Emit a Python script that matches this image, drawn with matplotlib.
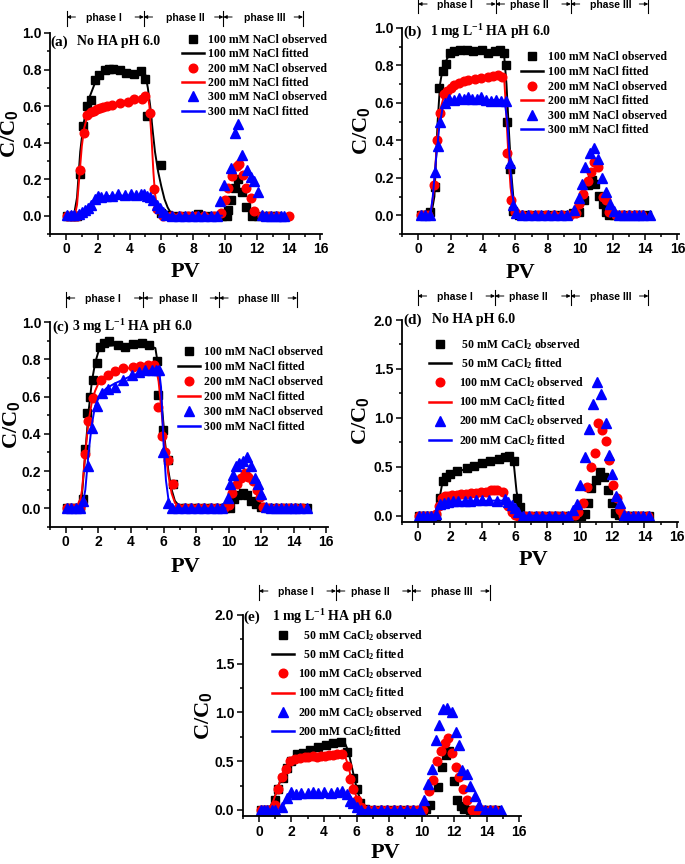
import matplotlib
matplotlib.use("Agg")
import matplotlib.pyplot as plt
from matplotlib.font_manager import FontProperties
from matplotlib.lines import Line2D
from matplotlib.ticker import MultipleLocator, FormatStrFormatter
from matplotlib.transforms import blended_transform_factory

plt.rcParams['font.family'] = ['Liberation Serif', 'DejaVu Serif']
plt.rcParams['mathtext.fontset'] = 'custom'
plt.rcParams['mathtext.rm'] = 'Liberation Serif:bold'
plt.rcParams['mathtext.it'] = 'Liberation Serif:bold'
plt.rcParams['mathtext.bf'] = 'Liberation Serif:bold'
plt.rcParams['mathtext.sf'] = 'Liberation Sans:bold'

# ---------------- data: panel (a) No HA, NaCl ----------------
a_x100 = [0.1,0.3,0.5,0.7,0.9,1.1,1.35,1.55,1.8,2.1,2.45,2.7,2.95,3.4,3.8,4.3,4.75,4.95,5.1,5.95,6.0,6.4,6.9,7.4,7.9,8.3,8.8,9.3,9.8,10.1,10.2,10.4,10.65,10.85,11.05,11.3,11.7,12.1,12.5,12.9,13.3]
a_y100 = [0,0,0,0,0.23,0.49,0.6,0.635,0.745,0.77,0.8,0.805,0.805,0.795,0.78,0.775,0.79,0.75,0.545,0.28,0.015,0.005,0,0,0,0.01,0,0,0,0,0.03,0.085,0.15,0.2,0.13,0.05,0,0,0,0,0]
a_x200 = [0.1,0.3,0.5,0.7,0.9,1.15,1.35,1.55,1.75,1.95,2.15,2.35,2.6,2.9,3.4,3.9,4.3,4.8,5.0,5.3,5.55,5.75,6.1,6.6,7.2,7.7,8.2,8.7,9.3,9.75,10.0,10.2,10.45,10.75,10.9,11.15,11.35,11.65,11.85,12.3,12.8,13.3,14.0]
a_y200 = [0,0,0,0,0.25,0.455,0.55,0.565,0.575,0.585,0.59,0.595,0.6,0.605,0.615,0.625,0.64,0.64,0.655,0.56,0.145,0.035,0,0,0,0,0,0,0,0.015,0.085,0.15,0.215,0.27,0.285,0.225,0.15,0.095,0.025,0,0,0,0]
a_x300 = [0.05,0.3,0.5,0.8,1.0,1.2,1.4,1.6,1.8,2.0,2.2,2.5,2.9,3.3,3.7,4.1,4.4,4.7,4.9,5.1,5.3,5.5,5.7,5.9,6.1,6.3,6.7,7.1,7.5,7.9,8.3,8.7,9.1,9.5,9.7,9.95,10.4,10.65,10.85,11.1,11.38,11.63,11.85,12.05,12.3,12.6,12.9,13.2,13.5,13.7]
a_y300 = [0.005,0.005,0.005,0.01,0.02,0.03,0.04,0.06,0.09,0.11,0.1,0.11,0.11,0.12,0.115,0.12,0.115,0.12,0.12,0.11,0.1,0.085,0.06,0.04,0.02,0.005,0,0,0,0,0,0,0,0,0.08,0.17,0.26,0.45,0.5,0.33,0.25,0.21,0.19,0.13,0.005,0,0,0,0,0]
a_fx100 = [0.5,0.7,0.9,1.1,1.4,1.8,2.2,2.6,3.0,3.5,4.0,4.5,5.0,5.15,5.3,5.45,5.6,5.8,6.0,6.2,6.4,6.6,6.9,9.8]
a_fy100 = [0,0.1,0.35,0.5,0.63,0.72,0.77,0.795,0.8,0.795,0.79,0.785,0.77,0.7,0.6,0.47,0.35,0.24,0.16,0.09,0.045,0.015,0,0]
a_fx200 = [0.55,0.7,0.85,1.0,1.15,1.3,1.6,2.0,2.5,3.0,3.5,4.0,4.5,5.0,5.15,5.25,5.4,5.5,5.6,5.75,5.9,6.1,9.8]
a_fy200 = [0,0.06,0.22,0.38,0.48,0.53,0.56,0.58,0.595,0.605,0.615,0.625,0.635,0.65,0.655,0.6,0.4,0.24,0.12,0.04,0.01,0,0]
a_fx300 = [0.6,0.9,1.2,1.5,1.8,2.1,2.5,3.0,3.5,4.0,4.5,4.9,5.2,5.5,5.8,6.1,6.4,6.7,9.8]
a_fy300 = [0,0.01,0.03,0.06,0.09,0.1,0.105,0.11,0.11,0.11,0.11,0.11,0.1,0.085,0.055,0.025,0.008,0,0]

# ---------------- data: panel (b) 1 mg/L HA, NaCl ----------------
b_x100 = [0.15,0.45,0.72,1.03,1.3,1.54,1.74,1.96,2.2,2.57,2.99,3.4,3.91,4.32,4.73,5.04,5.29,5.42,5.48,5.68,5.85,6.2,6.6,7.0,7.5,8.0,8.5,9.0,9.54,9.95,10.26,10.46,10.73,10.93,11.14,11.38,11.59,11.8,12.1,12.5,12.9,13.3,13.7,14.1]
b_y100 = [0,0,0.015,0.15,0.68,0.77,0.81,0.866,0.875,0.88,0.884,0.875,0.884,0.866,0.875,0.884,0.866,0.8,0.5,0.245,0.025,0,0,0,0,0,0,0,0.01,0.02,0.08,0.16,0.19,0.165,0.105,0.06,0.02,0,0,0,0,0,0,0]
b_x200 = [0.2,0.45,0.6,0.96,1.17,1.33,1.58,1.8,2.0,2.2,2.5,2.8,3.1,3.5,3.9,4.3,4.6,4.9,5.2,5.5,5.74,5.95,6.4,6.9,7.4,7.9,8.4,8.9,9.4,9.74,9.9,10.15,10.46,10.67,10.87,11.08,11.38,11.59,11.8,12.2,12.6,13.0,13.4,13.8]
b_y200 = [0,0,0,0.16,0.4,0.545,0.645,0.665,0.68,0.695,0.705,0.715,0.72,0.73,0.735,0.74,0.745,0.75,0.74,0.33,0.08,0.015,0,0,0,0,0,0,0,0.01,0.06,0.115,0.185,0.23,0.285,0.26,0.1,0.08,0.02,0,0,0,0,0]
b_x300 = [0.15,0.4,0.7,1.03,1.23,1.37,1.64,1.9,2.2,2.5,2.8,3.1,3.3,3.6,3.9,4.2,4.5,4.8,5.1,5.45,5.64,5.85,6.05,6.4,6.8,7.2,7.6,8.0,8.4,8.8,9.2,9.64,9.9,10.1,10.32,10.6,10.87,11.08,11.34,11.59,11.84,12.1,12.4,12.7,13.0,13.3,13.6,13.9,14.3]
b_y300 = [0,0,0,0.23,0.37,0.5,0.6,0.62,0.615,0.625,0.62,0.63,0.62,0.62,0.63,0.615,0.61,0.615,0.61,0.61,0.28,0.055,0.01,0,0,0,0,0,0,0,0,0.03,0.09,0.165,0.26,0.33,0.36,0.3,0.2,0.125,0.06,0.025,0,0,0,0,0,0,0]
b_fx100 = [0.8,1.0,1.2,1.35,1.5,1.8,2.2,3.0,4.0,5.0,5.3,5.45,5.6,5.75,5.9,6.05,6.2,9.5]
b_fy100 = [0,0.1,0.5,0.7,0.78,0.84,0.865,0.875,0.875,0.875,0.86,0.7,0.45,0.22,0.07,0.015,0,0]
b_fx200 = [0.75,0.95,1.15,1.35,1.6,2.0,3.0,4.0,5.0,5.3,5.4,5.55,5.7,5.85,6.0,6.2,9.5]
b_fy200 = [0,0.12,0.38,0.56,0.64,0.68,0.72,0.74,0.75,0.74,0.6,0.35,0.15,0.05,0.01,0,0]
b_fx300 = [0.75,0.9,1.1,1.3,1.5,1.7,2.0,3.0,4.0,5.0,5.35,5.5,5.65,5.8,5.95,6.1,6.3,9.5]
b_fy300 = [0,0.1,0.3,0.47,0.57,0.6,0.61,0.615,0.615,0.615,0.6,0.5,0.3,0.12,0.04,0.01,0,0]

# ---------------- data: panel (c) 3 mg/L HA, NaCl ----------------
c_x100 = [0.1,0.35,0.6,0.85,1.05,1.19,1.33,1.5,1.66,1.9,2.1,2.35,2.68,3.2,3.64,4.15,4.66,5.13,5.58,5.68,5.99,6.3,6.6,7.0,7.4,7.8,8.2,8.6,9.0,9.4,9.8,10.1,10.3,10.6,10.9,11.1,11.4,11.7,12.0,12.4,12.8,13.2,13.6,14.0,14.4,14.8]
c_y100 = [0,0,0,0,0.05,0.32,0.51,0.6,0.69,0.78,0.865,0.885,0.9,0.875,0.865,0.88,0.89,0.875,0.79,0.61,0.42,0.26,0.13,0,0,0,0,0,0,0,0,0,0.05,0.07,0.08,0.07,0.04,0.025,0.005,0,0,0,0,0,0,0]
c_x200 = [0.1,0.35,0.6,0.85,1.0,1.19,1.39,1.7,2.15,2.6,3.03,3.54,4.11,4.56,5.07,5.4,5.68,5.89,6.1,6.3,6.56,6.9,7.3,7.7,8.1,8.5,8.9,9.3,9.7,10.0,10.2,10.5,10.74,11.0,11.2,11.47,11.72,11.9,12.1,12.5,12.9,13.3,13.7,14.1,14.5]
c_y200 = [0,0,0,0,0.03,0.29,0.47,0.59,0.69,0.715,0.735,0.755,0.76,0.765,0.77,0.77,0.546,0.386,0.3,0.26,0.13,0,0,0,0,0,0,0,0,0.02,0.085,0.13,0.165,0.19,0.17,0.145,0.1,0.06,0.01,0,0,0,0,0,0]
c_x300 = [0.1,0.35,0.6,0.85,1.08,1.39,1.6,1.9,2.2,2.6,3.03,3.53,4.05,4.5,4.87,5.27,5.55,5.72,5.99,6.26,6.5,6.9,7.3,7.7,8.1,8.5,8.9,9.3,9.6,9.94,10.08,10.29,10.45,10.65,10.9,11.15,11.35,11.6,11.8,12.0,12.3,12.6,12.9,13.2,13.5,13.8,14.1,14.4,14.8]
c_y300 = [0,0,0,0,0.04,0.225,0.43,0.55,0.62,0.64,0.65,0.69,0.715,0.73,0.745,0.745,0.74,0.745,0.3,0.03,0,0,0,0,0,0,0,0,0,0.057,0.13,0.18,0.225,0.245,0.255,0.275,0.225,0.165,0.13,0.075,0.01,0,0,0,0,0,0,0,0]
c_fx100 = [0.8,1.0,1.2,1.4,1.6,1.8,2.0,2.3,3.0,4.0,5.0,5.5,5.7,5.9,6.1,6.3,6.5,6.7,7.0,7.3,9.8]
c_fy100 = [0,0.08,0.3,0.52,0.68,0.78,0.84,0.87,0.875,0.875,0.875,0.86,0.75,0.55,0.35,0.2,0.1,0.04,0.01,0,0]
c_fx200 = [0.8,1.0,1.2,1.4,1.6,1.8,2.1,2.5,3.0,4.0,5.0,5.5,5.7,5.9,6.1,6.3,6.5,6.7,7.0,9.8]
c_fy200 = [0,0.1,0.3,0.47,0.57,0.63,0.69,0.715,0.735,0.755,0.77,0.77,0.68,0.5,0.32,0.18,0.08,0.03,0,0]
c_fx300 = [1.0,1.2,1.4,1.6,1.8,2.1,2.5,3.0,3.5,4.0,4.5,5.0,5.5,5.7,5.85,6.0,6.15,6.3,6.5,6.7,9.8]
c_fy300 = [0,0.1,0.3,0.45,0.55,0.61,0.645,0.67,0.69,0.71,0.725,0.735,0.75,0.76,0.65,0.35,0.15,0.05,0.01,0,0]

# ---------------- data: panel (d) No HA, CaCl2 ----------------
d_x50 = [0.1,0.35,0.6,0.85,1.1,1.38,1.58,1.75,1.99,2.4,3.02,3.47,4.0,4.46,5.0,5.39,5.65,5.94,6.1,6.3,6.6,7.0,7.4,7.8,8.2,8.6,9.0,9.4,9.8,10.1,10.3,10.5,10.7,11.0,11.25,11.5,11.75,11.97,12.2,12.4,12.7,13.0,13.3,13.6,14.0,14.3]
d_y50 = [0,0,0,0,0,0.18,0.35,0.39,0.43,0.46,0.485,0.51,0.535,0.56,0.575,0.6,0.605,0.56,0.18,0.09,0,0,0,0,0,0,0,0,0,0,0.02,0.125,0.28,0.365,0.45,0.39,0.26,0.125,0.03,0.005,0,0,0,0,0,0]
d_x100 = [0.1,0.35,0.6,0.85,1.1,1.3,1.5,1.7,1.9,2.1,2.4,2.7,3.0,3.3,3.6,3.9,4.2,4.5,4.7,4.9,5.29,5.55,5.8,6.0,6.2,6.6,7.0,7.4,7.8,8.2,8.6,9.0,9.4,9.7,9.9,10.2,10.43,10.68,10.95,11.11,11.36,11.6,11.83,12.04,12.28,12.5,12.7,13.0,13.4,13.8,14.2]
d_y100 = [0,0,0,0,0.02,0.1,0.18,0.2,0.205,0.21,0.215,0.22,0.225,0.23,0.235,0.24,0.245,0.26,0.265,0.26,0.24,0.1,0.04,0.01,0,0,0,0,0,0,0,0,0,0.01,0.04,0.125,0.295,0.5,0.645,0.945,0.875,0.765,0.57,0.315,0.18,0.06,0.005,0,0,0,0]
d_x200 = [0.1,0.35,0.6,0.85,1.1,1.38,1.6,1.9,2.2,2.5,2.9,3.2,3.6,4.0,4.4,4.9,5.39,5.6,5.8,6.0,6.2,6.5,6.9,7.3,7.7,8.1,8.5,8.9,9.3,9.6,9.85,10.05,10.3,10.55,10.85,11.05,11.3,11.6,11.8,12.0,12.25,12.5,12.75,13.0,13.3,13.6,13.9,14.3]
d_y200 = [0,0,0,0,0.02,0.12,0.13,0.14,0.145,0.15,0.15,0.15,0.155,0.16,0.155,0.15,0.175,0.14,0.11,0.075,0.04,0,0,0,0,0,0,0,0,0.06,0.12,0.31,0.6,0.89,1.14,1.37,1.24,0.95,0.62,0.43,0.2,0.13,0.01,0,0,0,0,0]
d_fx50 = [1.2,1.35,1.55,1.8,2.0,3.0,4.0,5.0,5.5,5.8,5.95,6.1,6.3,6.5,6.7,9.5]
d_fy50 = [0,0.18,0.36,0.4,0.42,0.48,0.53,0.575,0.6,0.6,0.5,0.25,0.08,0.02,0,0]
d_fx100 = [1.1,1.3,1.5,1.8,2.5,3.5,4.5,5.0,5.3,5.5,5.7,5.9,6.1,9.5]
d_fy100 = [0,0.1,0.17,0.2,0.22,0.235,0.25,0.255,0.24,0.16,0.07,0.02,0,0]
d_fx200 = [1.1,1.3,1.6,2.0,3.0,4.0,5.0,5.4,5.7,6.0,6.3,6.5,9.5]
d_fy200 = [0,0.08,0.12,0.135,0.145,0.15,0.155,0.15,0.11,0.05,0.01,0,0]

# ---------------- data: panel (e) 1 mg/L HA, CaCl2 ----------------
e_x50 = [0.1,0.35,0.6,0.8,1.0,1.19,1.45,1.7,2.0,2.36,2.7,3.14,3.65,4.12,4.57,5.02,5.43,5.8,6.0,6.2,6.5,6.9,7.3,7.7,8.1,8.5,8.9,9.3,9.7,10.1,10.3,10.5,11.0,11.25,11.5,11.7,12.0,12.2,12.4,12.6,13.0,13.4,13.8,14.2,14.6]
e_y50 = [0,0,0,0,0.1,0.21,0.33,0.43,0.5,0.575,0.58,0.61,0.65,0.667,0.684,0.7,0.59,0.325,0.21,0.07,0.01,0,0,0,0,0,0,0,0,0,0.01,0.05,0.24,0.44,0.56,0.6,0.3,0.1,0.04,0.01,0,0,0,0,0]
e_x100 = [0.1,0.35,0.6,0.8,1.0,1.19,1.39,1.66,1.9,2.2,2.5,2.8,3.03,3.3,3.55,3.8,4.06,4.3,4.57,4.8,5.08,5.39,5.6,5.8,6.0,6.3,6.7,7.1,7.5,7.9,8.3,8.7,9.1,9.5,9.8,10.1,10.45,10.68,10.92,11.17,11.43,11.64,11.84,12.1,12.3,12.56,12.77,13.07,13.4,13.8,14.2,14.5]
e_y100 = [0,0,0,0,0.05,0.22,0.34,0.42,0.5,0.52,0.53,0.54,0.545,0.55,0.54,0.55,0.555,0.56,0.565,0.57,0.575,0.45,0.315,0.21,0.1,0.03,0,0,0,0,0,0,0,0,0,0,0.19,0.31,0.5,0.6,0.69,0.735,0.58,0.44,0.34,0.22,0.1,0,0,0,0,0]
e_x200 = [0.1,0.3,0.5,0.8,1.0,1.39,1.7,2.0,2.3,2.6,3.0,3.3,3.6,4.0,4.4,4.8,5.1,5.4,5.6,5.8,6.0,6.3,6.7,7.1,7.5,7.9,8.3,8.7,9.1,9.5,9.9,10.16,10.4,10.66,10.88,11.1,11.33,11.54,11.84,12.1,12.3,12.5,12.77,13.0,13.28,13.55,13.9,14.2,14.5,14.9]
e_y200 = [0,0,0,0,0,0.03,0.12,0.18,0.16,0.17,0.17,0.18,0.17,0.18,0.17,0.18,0.19,0.16,0.09,0.07,0.03,0,0,0,0,0,0,0,0,0,0,0.1,0.27,0.42,0.72,0.87,1.04,1.05,1.0,0.8,0.67,0.41,0.37,0.25,0.14,0.05,0,0,0,0]
e_fx50 = [0.6,0.9,1.2,1.5,1.8,2.1,2.5,3.0,3.5,4.0,4.5,5.0,5.3,5.5,5.7,5.9,6.1,6.3,6.5,6.8,9.8]
e_fy50 = [0,0.1,0.25,0.38,0.47,0.53,0.58,0.62,0.645,0.665,0.68,0.695,0.68,0.6,0.45,0.3,0.17,0.08,0.03,0,0]
e_fx100 = [0.6,0.9,1.2,1.5,1.8,2.1,2.5,3.0,4.0,5.0,5.3,5.5,5.7,5.9,6.1,6.3,6.5,9.8]
e_fy100 = [0,0.1,0.25,0.38,0.46,0.5,0.52,0.535,0.55,0.56,0.55,0.45,0.3,0.18,0.08,0.03,0,0]
e_fx200 = [1.3,1.5,1.8,2.1,2.5,3.0,4.0,5.0,5.5,5.7,5.9,6.1,6.3,6.5,9.8]
e_fy200 = [0,0.05,0.11,0.14,0.15,0.155,0.16,0.165,0.16,0.12,0.07,0.03,0.01,0,0]

# ---------------- labels ----------------
nacl_labels = ['100 mM NaCl observed', '100 mM NaCl fitted',
               '200 mM NaCl observed', '200 mM NaCl fitted',
               '300 mM NaCl observed', '300 mM NaCl fitted']
cacl_labels_d = [' 50 mM CaCl$_2$ observed', ' 50 mM CaCl$_2$ fitted',
                 '100 mM CaCl$_2$ observed', '100 mM CaCl$_2$ fitted',
                 '200 mM CaCl$_2$ observed', '200 mM CaCl$_2$ fitted']
cacl_labels_e = ['  50 mM CaCl$_2$ observed', '  50 mM CaCl$_2$ fitted',
                 '100 mM CaCl$_2$ observed', '100 mM CaCl$_2$ fitted',
                 '200 mM CaCl$_2$ observed', '200 mM CaCl$_2$fitted']
phase_names = ['phase I', 'phase II', 'phase III']

W, H = 685, 864
fig = plt.figure(figsize=(W / 100, H / 100), dpi=100)

SERIF = 'Liberation Serif'
SANS = 'Liberation Sans'
colors = ['#000000', '#ff0000', '#0000ff']
markers = ['s', 'o', '^']
msizes = [5.4, 6.2, 6.6]


def fx(x):
    return x / W


def fy(y):
    return 1 - y / H


def panel(box, ylim, ymaj, ymin, obs, fits, labels, tag, title, title_pos,
          leg_pos, leg_space, leg_pad, bars, texts_x, phase_dy, ylab_x, xlab_xy):
    l, t, r, b = box
    ax = fig.add_axes([fx(l), fy(b), (r - l) / W, (b - t) / H])
    ax.set_xlim(-1, 16.1)
    ax.set_ylim(*ylim)
    ax.xaxis.set_major_locator(MultipleLocator(2))
    ax.xaxis.set_minor_locator(MultipleLocator(1))
    ax.yaxis.set_major_locator(MultipleLocator(ymaj))
    ax.yaxis.set_minor_locator(MultipleLocator(ymin))
    ax.yaxis.set_major_formatter(FormatStrFormatter('%.1f'))
    ax.xaxis.set_major_formatter(FormatStrFormatter('%d'))
    for s in ['top', 'right']:
        ax.spines[s].set_visible(False)
    for s in ['left', 'bottom']:
        ax.spines[s].set_linewidth(1.3)
    ax.tick_params(which='both', direction='out', width=1.1)
    ax.tick_params(which='major', length=4, pad=2)
    ax.tick_params(which='minor', length=2.5)
    tfp = FontProperties(family=SANS, weight='bold', size=10)
    for lab in ax.get_xticklabels() + ax.get_yticklabels():
        lab.set_fontproperties(tfp)

    handles = []
    for i in range(3):
        ox, oy = obs[i]
        gx, gy = fits[i]
        ax.plot(ox, oy, ls='none', marker=markers[i], ms=msizes[i],
                color=colors[i], mec=colors[i], clip_on=False)
        ax.plot(gx, gy, color=colors[i], lw=1.4)
        handles.append(Line2D([], [], ls='none', marker=markers[i], ms=msizes[i],
                              color=colors[i]))
        handles.append(Line2D([], [], color=colors[i], lw=1.8))

    lfp = FontProperties(family=SERIF, weight='bold', size=8.5)
    ax.legend(handles, labels, loc='upper left',
              bbox_to_anchor=(fx(leg_pos[0]), fy(leg_pos[1])),
              bbox_transform=fig.transFigure, frameon=False, prop=lfp,
              handlelength=1.9, handletextpad=leg_pad, labelspacing=leg_space,
              borderpad=0, borderaxespad=0, numpoints=1)

    # panel title
    fig.text(fx(title_pos[0]), fy(title_pos[1]), tag, fontsize=11,
             fontweight='bold', family=SERIF, ha='left', va='center')
    fig.text(fx(title_pos[2]), fy(title_pos[1]), title, fontsize=10,
             fontweight='bold', family=SERIF, ha='left', va='center')

    # axis labels
    fig.text(fx(ylab_x), fy((t + b) / 2), r'C/C$_\mathsf{0}$', fontsize=16,
             rotation=90, fontweight='bold', family=SERIF, ha='center',
             va='center')
    fig.text(fx(xlab_xy[0]), fy(xlab_xy[1]), 'PV', fontsize=16,
             fontweight='bold', family=SERIF, ha='center', va='baseline')

    # phase annotation above the axes
    hpx = b - t
    trans = blended_transform_factory(ax.transData, ax.transAxes)
    yc = 1 + phase_dy / hpx
    y0 = 1 + (phase_dy - 8) / hpx
    y1 = 1 + (phase_dy + 7) / hpx
    ya = 1 + (phase_dy + 1) / hpx
    for bx in bars:
        ax.plot([bx, bx], [y0, y1], transform=trans, clip_on=False,
                color='black', lw=0.8)
    for k, bx in enumerate(bars):
        if k < len(bars) - 1:
            ax.annotate('', xy=(bx, ya), xycoords=trans,
                        xytext=(bx + 0.55, ya), textcoords=trans,
                        arrowprops=dict(arrowstyle='-|>', lw=0.7, color='black',
                                        mutation_scale=5, shrinkA=0, shrinkB=0),
                        annotation_clip=False)
        if k > 0:
            ax.annotate('', xy=(bx, ya), xycoords=trans,
                        xytext=(bx - 0.55, ya), textcoords=trans,
                        arrowprops=dict(arrowstyle='-|>', lw=0.7, color='black',
                                        mutation_scale=5, shrinkA=0, shrinkB=0),
                        annotation_clip=False)
    for name, tx in zip(phase_names, texts_x):
        ax.text(tx, yc, name, transform=trans, ha='center', va='center',
                fontsize=7.5, fontweight='bold', family=SANS, clip_on=False)
    return ax


panel((50, 33, 322, 234), (-0.1, 1.0), 0.2, 0.1,
      [(a_x100, a_y100), (a_x200, a_y200), (a_x300, a_y300)],
      [(a_fx100, a_fy100), (a_fx200, a_fy200), (a_fx300, a_fy300)],
      nacl_labels, '(a)', 'No HA pH 6.0', (50.5, 42, 77),
      (181.7, 34), 0.2, 0.35, [0.05, 4.9, 9.9, 14.9], [2.4, 7.5, 12.5], 15,
      10, (185, 277))

panel((402, 28, 679, 234), (-0.1, 1.0), 0.2, 0.1,
      [(b_x100, b_y100), (b_x200, b_y200), (b_x300, b_y300)],
      [(b_fx100, b_fy100), (b_fx200, b_fy200), (b_fx300, b_fy300)],
      nacl_labels, '(b)', '1 mg L$^{-1}$ HA pH 6.0', (403, 32, 430),
      (521, 51.5), 0.22, 0.35, [0.0, 4.78, 9.42, 14.2], [2.27, 6.85, 11.9], 23,
      362, (520, 278))

panel((49.5, 322, 328, 527), (-0.1, 1.0), 0.2, 0.1,
      [(c_x100, c_y100), (c_x200, c_y200), (c_x300, c_y300)],
      [(c_fx100, c_fy100), (c_fx200, c_fy200), (c_fx300, c_fy300)],
      nacl_labels, '(c)', '3 mg L$^{-1}$ HA pH 6.0', (52.5, 327, 72),
      (177.5, 346), 0.25, 0.35, [0.0, 4.77, 9.42, 14.2], [2.27, 6.88, 11.86], 23,
      12, (185, 572))

panel((401.5, 320, 678.5, 522), (-0.065, 2.0), 0.5, 0.25,
      [(d_x50, d_y50), (d_x100, d_y100), (d_x200, d_y200)],
      [(d_fx50, d_fy50), (d_fx100, d_fy100), (d_fx200, d_fy200)],
      cacl_labels_d, '(d)', 'No HA pH 6.0', (403, 320, 432),
      (429, 337.5), 0.36, 0.6, [0.0, 4.77, 9.44, 14.24], [2.3, 6.83, 11.9], 23,
      361, (533, 565))

panel((242.7, 615, 520.8, 816.3), (-0.065, 2.0), 0.5, 0.25,
      [(e_x50, e_y50), (e_x100, e_y100), (e_x200, e_y200)],
      [(e_fx50, e_fy50), (e_fx100, e_fy100), (e_fx200, e_fy200)],
      cacl_labels_e, '(e)', '1 mg L$^{-1}$ HA pH 6.0', (243.5, 617, 272),
      (271.7, 628.5), 0.36, 0.3, [0.0, 4.73, 9.39, 14.2], [2.27, 6.82, 11.84], 23,
      203, (385, 858))

fig.savefig('out.png', dpi=100, facecolor='white')
